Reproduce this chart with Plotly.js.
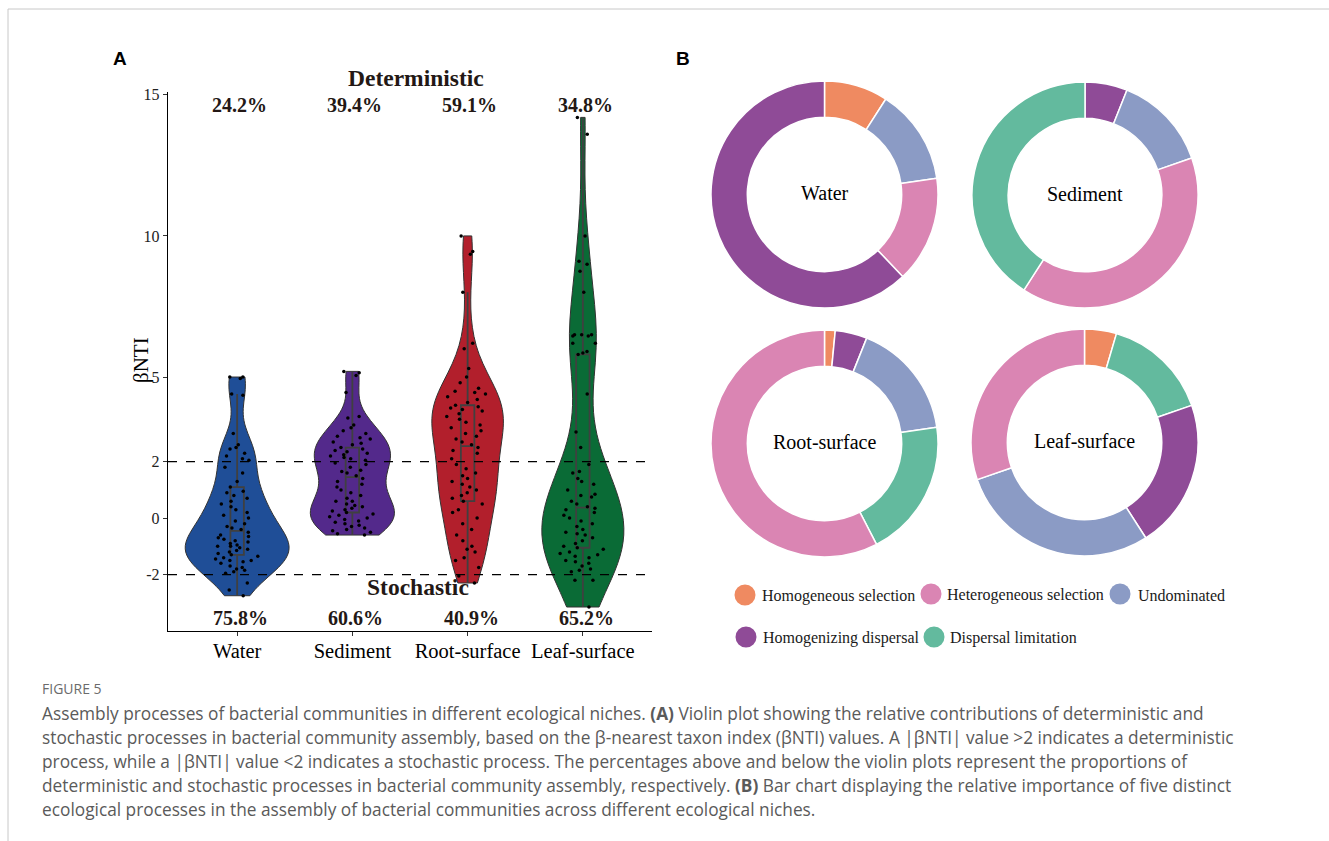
<!DOCTYPE html>
<html><head><meta charset="utf-8">
<script src="https://cdn.plot.ly/plotly-3.0.1.min.js"></script>
<style>html,body{margin:0;padding:0;background:#fff}#chart{width:1329px;height:841px}</style>
</head><body><div id="chart"></div>
<script>
// ---------- data ----------
const niches = ['Water', 'Sediment', 'Root-surface', 'Leaf-surface'];

const waterBNTI = [5.0, 5.0, 4.95, 4.4, 4.35, 3.0, 2.6, 2.5, 2.45, 2.3, 2.2, 2.1, 2.05,
  -2.3, -2.55, -2.75,
  1.8, 1.6, 1.3, 1.1, 0.95, 0.9, 0.8, 0.7, 0.6, 0.5, 0.4, 0.3, 0.2, 0.1, 0.0,
  -0.1, -0.2, -0.3, -0.35, -0.4, -0.5, -0.6, -0.65, -0.7, -0.75, -0.8, -0.85, -0.9, -0.95, -1.0,
  -1.0, -1.05, -1.1, -1.15, -1.2, -1.25, -1.3, -1.35, -1.4, -1.45, -1.5, -1.55, -1.6, -1.7, -1.75,
  -1.8, -1.85, -1.9, -1.95, -1.5];

const sedimentBNTI = [5.2, 5.15, 5.05, 4.45, 3.6, 3.55, 3.3, 3.2, 3.1, 3.0, 2.9, 2.85, 2.8, 2.7, 2.65,
  2.6, 2.5, 2.45, 2.4, 2.35, 2.3, 2.25, 2.2, 2.15, 2.1, 2.05,
  1.95, 1.9, 1.8, 1.7, 1.65, 1.6, 1.5, 1.4, 1.3, 1.2, 1.1, 1.0, 0.9, 0.8, 0.7,
  0.6, 0.5, 0.45, 0.4, 0.35, 0.3, 0.25, 0.2, 0.15, 0.1, 0.05, 0.0, -0.05, -0.1, -0.15,
  -0.2, -0.25, -0.3, -0.35, -0.4, -0.45, -0.5, -0.55, -0.6, 0.6];

const rootBNTI = [10.0, 9.45, 9.35, 8.0, 6.2, 6.0, 5.3, 5.0, 4.8, 4.6, 4.5, 4.45, 4.4, 4.3, 4.2,
  4.1, 4.0, 3.95, 3.9, 3.85, 3.8, 3.7, 3.6, 3.5, 3.4, 3.3, 3.2, 3.1, 3.0, 2.9,
  2.8, 2.7, 2.6, 2.5, 2.4, 2.3, 2.1,
  -2.3, -2.05,
  1.9, 1.75, 1.6, 1.5, 1.4, 1.3, 1.2, 1.1, 1.0, 0.9, 0.8, 0.6, 0.5, 0.3, 0.2,
  0.0, -0.2, -0.4, -0.6, -0.8, -1.0, -1.1, -1.2, -1.4, -1.5, -1.75, 0.7];

const leafBNTI = [14.2, 13.6, 10.0, 9.1, 9.0, 8.75, 8.0, 6.5, 6.5, 6.5, 6.45, 6.45, 6.2, 6.2, 5.9,
  5.85, 5.8, 4.4, 3.05, 2.5,
  -2.2, -2.2, -3.15,
  1.9, 1.65, 1.6, 1.4, 1.3, 1.2, 1.0, 0.85, 0.8, 0.75, 0.6, 0.5, 0.4, 0.35, 0.3,
  0.2, 0.1, 0.0, -0.1, -0.2, -0.3, -0.4, -0.5, -0.55, -0.6, -0.7, -0.8, -0.9, -1.0, -1.05,
  -1.1, -1.2, -1.25, -1.3, -1.35, -1.4, -1.5, -1.55, -1.6, -1.7, -1.8, -1.9, -1.85];

const deterministicPct = ['24.2%', '39.4%', '59.1%', '34.8%'];
const stochasticPct = ['75.8%', '60.6%', '40.9%', '65.2%'];
const yTickVals = [-2, 0, 2, 5, 10, 15];

const processes = ['Homogeneous selection', 'Heterogeneous selection', 'Undominated',
  'Homogenizing dispersal', 'Dispersal limitation'];

const waterProcLabels = ['Homogeneous selection', 'Undominated', 'Heterogeneous selection', 'Homogenizing dispersal'];
const waterProcCounts = [6, 9, 10, 41];
const sedimentProcLabels = ['Homogenizing dispersal', 'Undominated', 'Heterogeneous selection', 'Dispersal limitation'];
const sedimentProcCounts = [4, 9, 26, 27];
const rootProcLabels = ['Homogeneous selection', 'Homogenizing dispersal', 'Undominated', 'Dispersal limitation', 'Heterogeneous selection'];
const rootProcCounts = [1, 3, 11, 13, 38];
const leafProcLabels = ['Homogeneous selection', 'Dispersal limitation', 'Homogenizing dispersal', 'Undominated', 'Heterogeneous selection'];
const leafProcCounts = [3, 10, 14, 19, 20];

// ---------- styles ----------
const W = 1329, H = 841;
const px = x => x / W;
const py = y => 1 - y / H;
const SERIF = 'Liberation Serif, Times New Roman, serif';
const TXT = '#231815';
const nicheColors = ['#1F4E97', '#53298B', '#B21F2C', '#0A6B36'];
const violinWidths = [0.9, 0.73, 0.62, 0.71];
const procColor = {
  'Homogeneous selection': '#EF8A61',
  'Heterogeneous selection': '#DA85B3',
  'Undominated': '#8B9BC5',
  'Homogenizing dispersal': '#8F4B97',
  'Dispersal limitation': '#63BA9E'
};

function nrd0(v) {
  const s = [...v].sort((a, b) => a - b); const n = s.length;
  const m = s.reduce((a, b) => a + b, 0) / n;
  const sd = Math.sqrt(s.reduce((a, b) => a + (b - m) * (b - m), 0) / (n - 1));
  const q = p => { const h = (n - 1) * p, lo = Math.floor(h); return s[lo] + (h - lo) * (s[Math.min(lo + 1, n - 1)] - s[lo]); };
  const lo = Math.min(sd, (q(0.75) - q(0.25)) / 1.34);
  return 0.9 * lo * Math.pow(n, -0.2);
}

const series = [waterBNTI, sedimentBNTI, rootBNTI, leafBNTI];
const traces = series.map((vals, i) => ({
  type: 'violin', x: vals.map(() => niches[i]), y: vals, name: niches[i],
  fillcolor: nicheColors[i], line: { color: '#333333', width: 1 },
  width: violinWidths[i], scalegroup: niches[i], scalemode: 'width', spanmode: 'hard',
  bandwidth: nrd0(vals),
  points: 'all', pointpos: 0, jitter: Math.min(1, 0.45 * 0.9 / violinWidths[i]),
  marker: { color: '#000000', size: 3.5, line: { width: 0 } },
  box: { visible: true, width: 0.13 * 0.9 / violinWidths[i], fillcolor: 'rgba(0,0,0,0)', line: { color: '#404040', width: 1.8 } },
  meanline: { visible: false }, hoverinfo: 'skip', showlegend: false
}));

const pies = [
  { name: 'Water', labels: waterProcLabels, values: waterProcCounts, x: [711, 938], y: [81, 308] },
  { name: 'Sediment', labels: sedimentProcLabels, values: sedimentProcCounts, x: [972, 1198], y: [82, 308] },
  { name: 'Root-surface', labels: rootProcLabels, values: rootProcCounts, x: [711, 938], y: [330, 557] },
  { name: 'Leaf-surface', labels: leafProcLabels, values: leafProcCounts, x: [971, 1198], y: [329, 556] }
];
const annotations = [];
pies.forEach(p => {
  traces.push({
    type: 'pie', labels: p.labels, values: p.values, hole: 0.68, sort: false,
    direction: 'clockwise', rotation: 0, textinfo: 'none', hoverinfo: 'skip',
    marker: { colors: p.labels.map(l => procColor[l]), line: { color: '#ffffff', width: 1.5 } },
    domain: { x: [px(p.x[0]), px(p.x[1])], y: [py(p.y[1]), py(p.y[0])] },
    showlegend: false
  });
  annotations.push({ x: px((p.x[0] + p.x[1]) / 2), y: py((p.y[0] + p.y[1]) / 2 - 1.5), xref: 'paper', yref: 'paper',
    xanchor: 'center', yanchor: 'middle', text: p.name, showarrow: false,
    font: { family: SERIF, size: 20, color: '#000' } });
});

niches.forEach((n, i) => {
  annotations.push({ x: i + 0.02, y: 14.65, xref: 'x', yref: 'y', text: '<b>' + deterministicPct[i] + '</b>', showarrow: false,
    font: { family: SERIF, size: 20, color: TXT } });
  annotations.push({ x: i + 0.03, y: -3.55, xref: 'x', yref: 'y', text: '<b>' + stochasticPct[i] + '</b>', showarrow: false,
    font: { family: SERIF, size: 20, color: TXT } });
});
annotations.push({ x: 1.55, y: py(78), xref: 'x', yref: 'paper', xanchor: 'center', yanchor: 'middle',
  text: '<b>Deterministic</b>', showarrow: false, font: { family: SERIF, size: 23.5, color: TXT } });
annotations.push({ x: 1.57, y: -2.45, xref: 'x', yref: 'y', text: '<b>Stochastic</b>', showarrow: false,
  font: { family: SERIF, size: 23.5, color: TXT } });
annotations.push({ x: px(141), y: py(360), xref: 'paper', yref: 'paper', xanchor: 'center', yanchor: 'middle',
  textangle: -90, text: 'βNTI', showarrow: false, font: { family: SERIF, size: 21, color: '#000' } });
annotations.push({ x: px(120), y: py(58), xref: 'paper', yref: 'paper', xanchor: 'center', yanchor: 'middle',
  text: '<b>A</b>', showarrow: false, font: { family: 'Liberation Sans, Arial, sans-serif', size: 19, color: '#000' } });
annotations.push({ x: px(683), y: py(58), xref: 'paper', yref: 'paper', xanchor: 'center', yanchor: 'middle',
  text: '<b>B</b>', showarrow: false, font: { family: 'Liberation Sans, Arial, sans-serif', size: 19, color: '#000' } });

// legend (manual layout)
const legendPos = [[745, 595, 762], [931, 594, 947], [1120, 594, 1138], [746, 637, 763], [934, 637, 950]];
const shapes = [];
processes.forEach((p, i) => {
  const [cx, cy, tx] = legendPos[i];
  shapes.push({ type: 'circle', xref: 'paper', yref: 'paper', xsizemode: 'pixel', ysizemode: 'pixel',
    xanchor: px(cx), yanchor: py(cy), x0: -10.5, x1: 10.5, y0: -10.5, y1: 10.5,
    fillcolor: procColor[p], line: { width: 0 } });
  annotations.push({ x: px(tx - 2), y: py(cy + 1), xref: 'paper', yref: 'paper', xanchor: 'left', yanchor: 'middle',
    text: p, showarrow: false, font: { family: SERIF, size: 16, color: '#1a1a1a' } });
});

// dashed threshold lines
[2, -2].forEach(v => shapes.push({ type: 'line', xref: 'x domain', yref: 'y', x0: 0, x1: 1, y0: v, y1: v,
  line: { color: '#000', width: 1.2, dash: 'dash' } }));
// page frame
shapes.push({ type: 'line', xref: 'paper', yref: 'paper', x0: px(8), x1: 1, y0: py(9), y1: py(9), line: { color: '#c8c8c8', width: 1 } });
shapes.push({ type: 'line', xref: 'paper', yref: 'paper', x0: px(8), x1: px(8), y0: py(9), y1: 0, line: { color: '#c8c8c8', width: 1 } });

// caption
const CAP = 'Open Sans, Noto Sans, sans-serif';
annotations.push({ x: px(40), y: py(688), xref: 'paper', yref: 'paper', xanchor: 'left', yanchor: 'middle',
  text: 'FIGURE 5', showarrow: false, font: { family: CAP, size: 14, color: '#6b6b6b' } });
const captionLines = [
  'Assembly processes of bacterial communities in different ecological niches. <b>(A)</b> Violin plot showing the relative contributions of deterministic and',
  'stochastic processes in bacterial community assembly, based on the β-nearest taxon index (βNTI) values. A |βNTI| value &gt;2 indicates a deterministic',
  'process, while a |βNTI| value &lt;2 indicates a stochastic process. The percentages above and below the violin plots represent the proportions of',
  'deterministic and stochastic processes in bacterial community assembly, respectively. <b>(B)</b> Bar chart displaying the relative importance of five distinct',
  'ecological processes in the assembly of bacterial communities across different ecological niches.'
];
captionLines.forEach((t, i) => annotations.push({ x: px(40), y: py(713 + 24 * i), xref: 'paper', yref: 'paper',
  xanchor: 'left', yanchor: 'middle', text: t, showarrow: false, font: { family: CAP, size: 17.3, color: '#5a5a5a' } }));

const layout = {
  width: W, height: H, margin: { l: 0, r: 0, t: 0, b: 0 }, paper_bgcolor: '#fff', plot_bgcolor: 'rgba(0,0,0,0)',
  showlegend: false, violinmode: 'overlay',
  xaxis: { domain: [px(168), px(652)], type: 'category', categoryorder: 'array', categoryarray: niches,
    range: [-0.6, 3.6], showline: true, linecolor: '#000', linewidth: 1.3, ticks: 'outside', ticklen: 4,
    tickcolor: '#333', tickwidth: 1, showgrid: false, zeroline: false, ticklabelstandoff: -3,
    tickfont: { family: SERIF, size: 20.5, color: '#000' } },
  yaxis: { domain: [py(631), py(92)], range: [-4.0, 15.1], tickvals: yTickVals, ticktext: yTickVals.map(String),
    showline: true, linecolor: '#000', linewidth: 1.3, ticks: 'outside', ticklen: 4, tickcolor: '#333',
    showgrid: false, zeroline: false, tickfont: { family: SERIF, size: 16, color: '#222' } },
  shapes: shapes, annotations: annotations
};
Plotly.newPlot('chart', traces, layout, { staticPlot: true, displayModeBar: false });
</script></body></html>
